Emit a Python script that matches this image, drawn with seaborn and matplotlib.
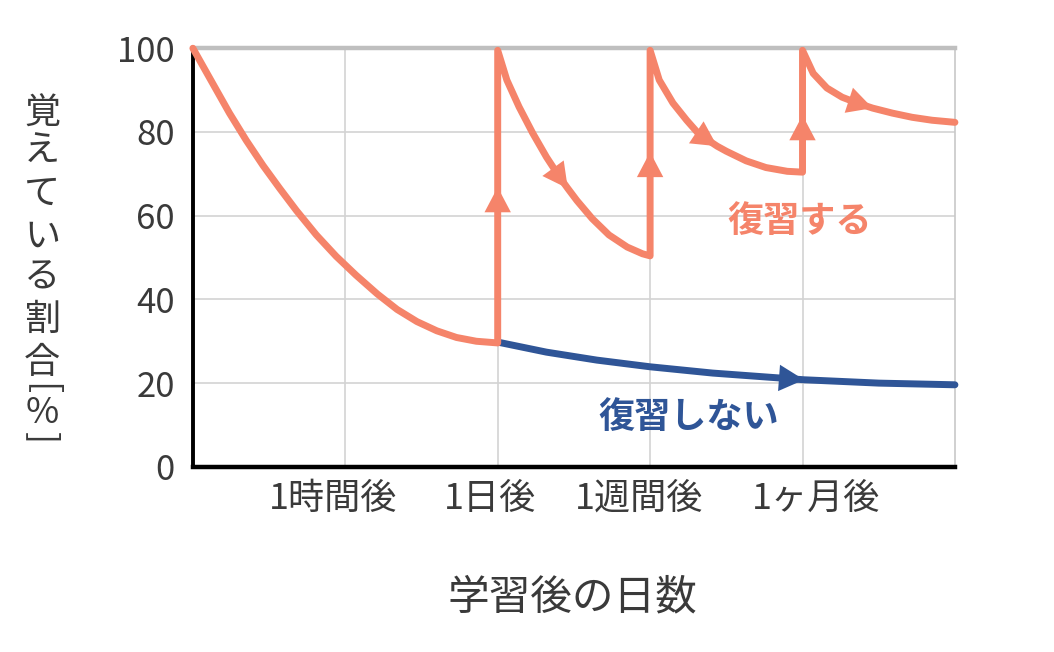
import pandas as pd
import seaborn as sns
import matplotlib.pyplot as plt

# values (x: 0 = study time, gridlines at 1..4)
grid_pos = [1, 2, 3, 4]
label_pos = [0.92, 1.95, 2.93, 4.09]
tick_labels = ['1時間後', '1日後', '1週間後', '1ヶ月後']

review_x = [0.0, 0.13, 0.24, 0.35, 0.46, 0.57, 0.68, 0.81, 0.94, 1.07, 1.21,
            1.34, 1.47, 1.6, 1.73, 1.86, 2.0,
            2.0, 2.0,
            2.0, 2.06, 2.14, 2.23, 2.32, 2.41, 2.46, 2.52, 2.62, 2.73, 2.85,
            2.95, 3.0,
            3.0, 3.0,
            3.0, 3.06, 3.15, 3.24, 3.32, 3.44, 3.5, 3.63, 3.76, 3.9, 4.0,
            4.0, 4.0,
            4.0, 4.07, 4.16, 4.26, 4.36, 4.46, 4.59, 4.72, 4.85, 5.0]
review_y = [100, 91.6, 84.5, 78, 72, 66.5, 61.2, 55.4, 50.3, 45.8, 41.3,
            37.6, 34.7, 32.5, 30.9, 30.0, 29.6,
            50, 66.8,
            99.5, 92.4, 86, 79.7, 74, 69, 66.5, 63.6, 59.3, 55.4, 52.5,
            50.9, 50.4,
            65, 75.2,
            99.5, 92.4, 86.9, 82.8, 79.5, 76.6, 75.4, 73.1, 71.5, 70.6, 70.4,
            78, 84,
            99.5, 94, 90.5, 88.3, 86.9, 85.7, 84.5, 83.5, 82.8, 82.3]
review_arrows = [18, 25, 33, 39, 46, 52]   # path indices where arrow heads sit

no_review_x = [2.0, 2.32, 2.65, 3.0, 3.41, 4.01, 4.5, 5.0]
no_review_y = [29.8, 27.4, 25.5, 23.9, 22.4, 20.8, 20.0, 19.6]
no_review_arrows = [5]

ylabel_chars = ['覚', 'え', 'て', 'い', 'る', '割', '合', '[', '%', ']']
ylabel_px = [114, 152, 194, 237, 277, 320, 363, 389, 413, 438]

orange = '#F5846A'
blue = '#2F5597'
text_col = '#3A3A3A'
jp = ['Noto Sans CJK JP', 'DejaVu Sans']

sns.set_theme(style='white')
plt.rcParams['font.family'] = jp

review = pd.DataFrame({'x': review_x, 'y': review_y})
no_review = pd.DataFrame({'x': no_review_x, 'y': no_review_y})

fig, ax = plt.subplots(figsize=(10.54, 6.52), dpi=100)
fig.subplots_adjust(left=0.183, right=0.906, top=0.926, bottom=0.284)

ax.set_xlim(0, 5)
ax.set_ylim(0, 100)
ax.set_xticks(grid_pos)
ax.set_xticklabels([])
ax.set_xticks(label_pos, minor=True)
ax.set_xticklabels(tick_labels, minor=True)
ax.set_yticks(range(0, 101, 20))
ax.grid(True, which='major', color='#D3D3D3', linewidth=1.2)
ax.set_axisbelow(True)
ax.tick_params(axis='both', which='both', length=0, colors=text_col)
ax.tick_params(axis='y', labelsize=25, pad=13)
ax.tick_params(axis='x', which='minor', labelsize=26, pad=10)

for side, col, lw in [('left', 'black', 2.8), ('bottom', 'black', 3.2),
                      ('top', '#BFBFBF', 3.2), ('right', '#C8C8C8', 1.2)]:
    ax.spines[side].set_visible(True)
    ax.spines[side].set_color(col)
    ax.spines[side].set_linewidth(lw)

sns.lineplot(data=no_review, x='x', y='y', sort=False, estimator=None,
             color=blue, linewidth=5, ax=ax, clip_on=False, zorder=3,
             solid_joinstyle='round', solid_capstyle='round')
sns.lineplot(data=review, x='x', y='y', sort=False, estimator=None,
             color=orange, linewidth=5, ax=ax, clip_on=False, zorder=4,
             solid_joinstyle='round', solid_capstyle='round')


def add_heads(xs, ys, idx, col):
    for i in idx:
        ax.annotate('', xy=(xs[i], ys[i]), xytext=(xs[i - 1], ys[i - 1]),
                    arrowprops=dict(arrowstyle='-|>,head_length=0.95,head_width=0.5',
                                    color=col, lw=0, mutation_scale=19,
                                    shrinkA=0, shrinkB=0), zorder=5)


add_heads(review_x, review_y, review_arrows, orange)
add_heads(no_review_x, no_review_y, no_review_arrows, blue)

ax.text(3.98, 58.5, '復習する', color=orange, fontsize=26, fontweight='bold',
        ha='center', va='center')
ax.text(3.25, 11.7, '復習しない', color=blue, fontsize=26, fontweight='bold',
        ha='center', va='center')

ax.set_xlabel('')
ax.set_ylabel('')
fig.text(572 / 1054, 1 - 598 / 652, '学習後の日数', fontsize=30, color=text_col,
         ha='center', va='center')

H = 652
for ch, py in zip(ylabel_chars, ylabel_px):
    rot = -90 if ch in '[]' else 0
    fig.text(0.04, 1 - py / H, ch, fontsize=26, color=text_col,
             ha='center', va='center', rotation=rot)

fig.savefig('out.png', dpi=100, facecolor='white')
